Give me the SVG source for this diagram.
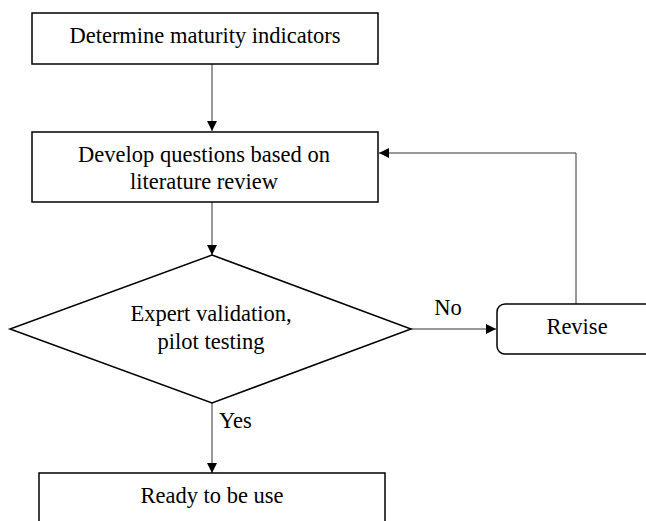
<svg xmlns="http://www.w3.org/2000/svg" width="646" height="521" viewBox="0 0 646 521">
<style>
.box{fill:#fff;stroke:#000;stroke-width:1.5}
.lbl{font-family:'Liberation Serif','Times New Roman',serif;font-size:22.5px;fill:#000;text-anchor:middle}
.con{fill:none;stroke:#333;stroke-width:1}
</style>
<defs>
<marker id="arr" markerWidth="10" markerHeight="10" refX="10" refY="5" orient="auto" markerUnits="userSpaceOnUse">
<path d="M0,0 L10,5 L0,10 Z" fill="#000"/>
</marker>
</defs>
<rect width="646" height="521" fill="#fff"/>
<g id="connectors">
<line class="con" x1="212" y1="64" x2="212" y2="131" marker-end="url(#arr)"/>
<line class="con" x1="212" y1="202" x2="212" y2="255" marker-end="url(#arr)"/>
<line class="con" x1="411" y1="329" x2="496" y2="329" marker-end="url(#arr)"/>
<polyline class="con" points="576,304 576,153 379,153" marker-end="url(#arr)"/>
<line class="con" x1="212" y1="403" x2="212" y2="473" marker-end="url(#arr)"/>
<text class="lbl" x="448" y="315">No</text>
<text class="lbl" x="219" y="428" style="text-anchor:start">Yes</text>
</g>
<g id="n1">
<rect class="box" x="32" y="13" width="346" height="51"/>
<text class="lbl" x="205" y="43">Determine maturity indicators</text>
</g>
<g id="n2">
<rect class="box" x="32" y="132" width="346" height="70"/>
<text class="lbl" x="204" y="162">Develop questions based on</text>
<text class="lbl" x="204" y="189">literature review</text>
</g>
<g id="n3">
<polygon class="box" points="212,255 411,329 212,403 10,329"/>
<text class="lbl" x="211" y="321">Expert validation,</text>
<text class="lbl" x="211" y="349">pilot testing</text>
</g>
<g id="n4">
<rect class="box" x="497" y="304" width="160" height="50" rx="8"/>
<text class="lbl" x="577" y="334">Revise</text>
</g>
<g id="n5">
<rect class="box" x="39" y="473" width="346" height="60"/>
<text class="lbl" x="212" y="503">Ready to be use</text>
</g>
</svg>
